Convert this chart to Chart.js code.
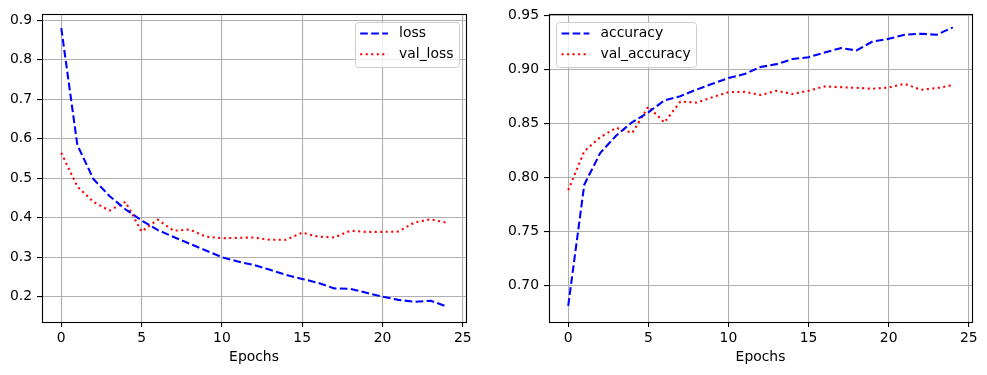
<!DOCTYPE html>
<html><head><meta charset="utf-8">
<script src="https://cdn.jsdelivr.net/npm/chart.js@4.4.0/dist/chart.umd.min.js"></script>
<style>
html,body{margin:0;padding:0;background:#fff;}
#w{position:relative;width:987px;height:375px;overflow:hidden;}
.c{position:absolute;top:0;width:493px;height:375px;}
</style></head><body>
<div id="w">
<div class="c" style="left:0"><canvas id="c1" width="493" height="375"></canvas></div>
<div class="c" style="left:494px"><canvas id="c2" width="493" height="375"></canvas></div>
</div>
<script>
const epochs = [0,1,2,3,4,5,6,7,8,9,10,11,12,13,14,15,16,17,18,19,20,21,22,23,24];
const loss = [0.880,0.584,0.498,0.455,0.421,0.393,0.369,0.351,0.334,0.317,0.300,0.289,0.280,0.268,0.255,0.245,0.235,0.221,0.220,0.210,0.200,0.192,0.187,0.190,0.175];
const valLoss = [0.564,0.479,0.440,0.418,0.440,0.365,0.395,0.367,0.370,0.352,0.348,0.349,0.350,0.344,0.344,0.362,0.352,0.350,0.367,0.364,0.364,0.365,0.388,0.396,0.387];
const accuracy = [0.681,0.793,0.8225,0.8386,0.851,0.860,0.871,0.875,0.881,0.8864,0.8917,0.8954,0.9019,0.9046,0.9093,0.911,0.9154,0.9194,0.9173,0.9256,0.928,0.9318,0.9327,0.9318,0.9386];
const valAccuracy = [0.788,0.824,0.837,0.8457,0.841,0.8654,0.8506,0.870,0.869,0.874,0.8787,0.879,0.876,0.880,0.877,0.880,0.884,0.8833,0.8827,0.8818,0.883,0.8864,0.8809,0.8824,0.8852];
const xTicks = [0,5,10,15,20,25];
const xTickLabels = ['0','5','10','15','20','25'];
const lossTicks = [0.2,0.3,0.4,0.5,0.6,0.7,0.8,0.9];
const lossTickLabels = ['0.2','0.3','0.4','0.5','0.6','0.7','0.8','0.9'];
const accTicks = [0.70,0.75,0.80,0.85,0.90,0.95];
const accTickLabels = ['0.70','0.75','0.80','0.85','0.90','0.95'];
const xTitle = 'Epochs';

const FS = 13.9;
const FONT = {family: '"DejaVu Sans", sans-serif', size: FS};
const LW = 2.08;

const deco = {
  id: 'deco',
  afterDraw(chart, args, opts) {
    const ctx = chart.ctx, a = chart.chartArea;
    ctx.save();
    ctx.setLineDash([]);
    ctx.strokeStyle = '#000'; ctx.lineWidth = 1.1;
    ctx.strokeRect(Math.round(a.left) + 0.5, Math.round(a.top) + 0.5,
                   Math.round(a.right - a.left), Math.round(a.bottom - a.top));
    // legend
    ctx.font = FS + 'px "DejaVu Sans", sans-serif';
    const items = chart.data.datasets;
    const tw = Math.max(...items.map(d => ctx.measureText(d.label).width));
    const pad = 0.4 * FS, hl = 2 * FS, htp = 0.8 * FS;
    const w = pad + hl + htp + tw + pad;
    const rowH = 20.7;
    const h = 12 + rowH + 12.5;
    const x = opts.side === 'right' ? a.right - 7 - w : a.left + 7;
    const y = a.top + 7.5;
    ctx.beginPath();
    ctx.roundRect(Math.round(x) + 0.5, Math.round(y) + 0.5, Math.round(w), Math.round(h), 3);
    ctx.fillStyle = 'rgba(255,255,255,0.8)';
    ctx.fill();
    ctx.lineWidth = 1;
    ctx.strokeStyle = '#cccccc';
    ctx.stroke();
    items.forEach((d, i) => {
      const cy = y + 12 + i * rowH;
      ctx.beginPath();
      ctx.setLineDash(d.borderDash);
      ctx.lineCap = 'butt';
      ctx.strokeStyle = d.borderColor;
      ctx.lineWidth = LW;
      ctx.moveTo(x + pad, cy);
      ctx.lineTo(x + pad + hl, cy);
      ctx.stroke();
      ctx.setLineDash([]);
      ctx.fillStyle = '#000';
      ctx.textBaseline = 'middle';
      ctx.textAlign = 'left';
      ctx.fillText(d.label, x + pad + hl + htp, cy);
    });
    ctx.restore();
  }
};

function makeChart(id, names, s1, s2, yTicks, yLabels, ymin, ymax, yWidth, padRight, side) {
  const pts = s => epochs.map((e, i) => ({x: e, y: s[i]}));
  return new Chart(document.getElementById(id), {
    type: 'line',
    data: {
      datasets: [
        {label: names[0], data: pts(s1), borderColor: '#0000ff', borderWidth: LW,
         borderDash: [7.7, 3.33], pointRadius: 0, tension: 0, fill: false,
         borderCapStyle: 'butt', borderJoinStyle: 'round'},
        {label: names[1], data: pts(s2), borderColor: '#ff0000', borderWidth: LW,
         borderDash: [2.08, 3.44], pointRadius: 0, tension: 0, fill: false,
         borderCapStyle: 'butt', borderJoinStyle: 'round'}
      ]
    },
    options: {
      responsive: false,
      animation: false,
      devicePixelRatio: 1,
      layout: {padding: {top: 14, right: padRight, bottom: 0, left: 0}},
      plugins: {legend: {display: false}, tooltip: {enabled: false}, deco: {side}},
      scales: {
        x: {
          type: 'linear', min: -1.2, max: 25.2,
          afterBuildTicks: s => { s.ticks = xTicks.map(v => ({value: v})); },
          afterFit: s => { s.height = 53; },
          ticks: {font: FONT, color: '#000', padding: 3, maxRotation: 0,
                  callback: (v) => xTickLabels[xTicks.indexOf(v)]},
          grid: {color: '#b0b0b0', lineWidth: 1.1, tickColor: '#000', tickLength: 5, tickWidth: 1.1},
          border: {display: false},
          title: {display: true, text: xTitle, font: FONT, color: '#000', padding: {top: 0, bottom: 9.4}}
        },
        y: {
          type: 'linear', min: ymin, max: ymax,
          afterBuildTicks: s => { s.ticks = yTicks.map(v => ({value: v})); },
          afterFit: s => { s.width = yWidth; },
          ticks: {font: FONT, color: '#000', padding: 5,
                  callback: (v) => yLabels[yTicks.findIndex(t => Math.abs(t - v) < 1e-9)]},
          grid: {color: '#b0b0b0', lineWidth: 1.1, tickColor: '#000', tickLength: 5, tickWidth: 1.1},
          border: {display: false}
        }
      }
    },
    plugins: [deco]
  });
}

makeChart('c1', ['loss', 'val_loss'], loss, valLoss, lossTicks, lossTickLabels, 0.136, 0.9155, 42, 27, 'right');
makeChart('c2', ['accuracy', 'val_accuracy'], accuracy, valAccuracy, accTicks, accTickLabels, 0.666, 0.951, 55, 15, 'left');
</script>
</body></html>
